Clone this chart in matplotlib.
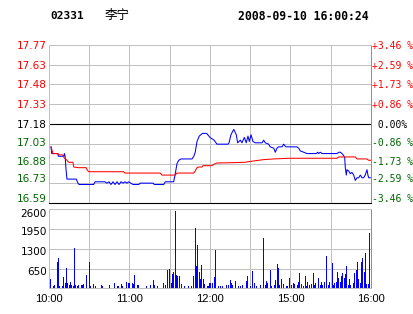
# lining_intraday.py
# Intraday quote panel for 02331 (Li Ning), 2008-09-10: price/average lines + volume bars

import matplotlib
matplotlib.use('Agg')
import matplotlib.pyplot as plt
import matplotlib.transforms as mtransforms
import numpy as np

plt.rcParams['font.family'] = ['DejaVu Sans', 'Noto Sans CJK SC']

#----------------- header text
stock_code = '02331'
stock_name = '李宁'
stamp = '2008-09-10 16:00:24'

#----------------- price panel data (minutes after 10:00, lunch break removed)
prev_close = 17.18
price_labels = ['17.77', '17.63', '17.48', '17.33', '17.18', '17.03', '16.88', '16.73', '16.59']
pct_labels = ['+3.46 %', '+2.59 %', '+1.73 %', '+0.86 %', ' 0.00%',
              '-0.86 %', '-1.73 %', '-2.59 %', '-3.46 %']

last_t = [1.5, 2, 6.5, 7, 11, 11.5, 12, 12.7, 13.4, 20.3, 21.6, 22.4, 33.3, 34.3, 41.7,
          43.2, 44.7, 46.2, 47.7, 49.2, 50.7, 52.2, 53.7, 55.2, 56.6, 58.1, 59.4, 62.6,
          66.9, 68, 77.5, 78.5, 85.5, 86.7, 92.9, 94.1, 95.4, 96.7, 98.4, 106.6, 107.9,
          109, 110.3, 112, 114.3, 117.5, 120, 123, 125.2, 133.4, 134.2, 135.6, 137.7,
          139.6, 140.6, 142.6, 143.8, 145.6, 147, 148.3, 149.3, 150.6, 152, 153.8, 158.8,
          160, 161.2, 163.7, 164.9, 167.5, 168.7, 169.9, 171.2, 173.7, 174.9, 176.6,
          178.7, 184.8, 186.1, 187.3, 192.3, 199.2, 200.3, 201, 202.2, 203.5, 214.7,
          215.9, 217.1, 218.4, 219.6, 220.4, 220.8, 221.6, 222.1, 223.4, 224.6, 225.8,
          227.1, 228.3, 229.6, 230.8, 232, 233.3, 234.5, 235.7, 237, 237.7, 238.3, 239.5]
last_px = [17.01, 16.96, 16.96, 16.94, 16.94, 16.96, 16.94, 16.84, 16.77, 16.77, 16.74,
           16.73, 16.73, 16.75, 16.75, 16.74, 16.75, 16.73, 16.75, 16.73, 16.75, 16.73,
           16.75, 16.74, 16.75, 16.74, 16.75, 16.73, 16.73, 16.74, 16.74, 16.73, 16.73,
           16.75, 16.75, 16.81, 16.885, 16.91, 16.92, 16.92, 16.94, 16.97, 17.05, 17.09,
           17.11, 17.11, 17.08, 17.06, 17.03, 17.03, 17.04, 17.10, 17.14, 17.10, 17.04,
           17.06, 17.04, 17.08, 17.04, 17.09, 17.05, 17.10, 17.05, 17.04, 17.04, 17.06,
           17.04, 17.03, 17.01, 17.00, 16.97, 17.00, 17.01, 17.01, 17.03, 17.01, 17.01,
           17.01, 17.00, 16.98, 16.96, 16.96, 16.97, 16.96, 16.97, 16.96, 16.96, 16.97,
           16.97, 16.96, 16.945, 16.93, 16.86, 16.80, 16.84, 16.83, 16.81, 16.82, 16.80,
           16.76, 16.78, 16.78, 16.80, 16.78, 16.78, 16.80, 16.84, 16.80, 16.78, 16.78]

avg_t = [1.5, 3, 6.7, 7.5, 10.4, 11.2, 13.4, 14.7, 17.9, 18.4, 22.1, 27.8, 28.3, 29.6,
         55.7, 56.4, 82.9, 84.2, 94.1, 94.9, 95.4, 107.9, 109, 110.3, 111.6, 114, 114.8,
         121.5, 122.8, 125.2, 134.9, 146, 148.8, 160, 167.5, 178.7, 214.7, 215.9, 228.3,
         229.6, 237, 238.3, 240]
avg_px = [17.01, 16.96, 16.96, 16.95, 16.95, 16.93, 16.91, 16.895, 16.895, 16.86, 16.855,
          16.855, 16.84, 16.825, 16.825, 16.815, 16.815, 16.80, 16.80, 16.81, 16.815,
          16.815, 16.83, 16.855, 16.86, 16.86, 16.87, 16.87, 16.88, 16.89, 16.892, 16.895,
          16.90, 16.915, 16.92, 16.925, 16.925, 16.935, 16.935, 16.92, 16.92, 16.91, 16.91]

#----------------- volume panel data
vol_ticks = [650, 1300, 1950, 2600]
vol_t = [1, 3, 4, 6, 7, 8, 10, 11, 12, 13, 14, 15, 16, 17, 18, 19, 20, 21, 22, 24, 25, 26,
         28, 30, 31, 33, 35, 39, 40, 45, 49, 51, 52, 54, 55, 58, 59, 60, 62, 63, 64, 66, 67,
         73, 76, 78, 79, 81, 85, 87, 88, 90, 91, 92, 93, 94, 95, 96, 97, 99, 101, 104, 106,
         108, 109, 110, 111, 112, 113, 114, 115, 116, 118, 119, 120, 122, 123, 124, 126, 128,
         129, 132, 134, 135, 136, 137, 139, 141, 143, 144, 147, 148, 150, 152, 153, 155, 158,
         160, 161, 162, 163, 165, 166, 168, 169, 170, 171, 172, 173, 175, 177, 178, 179, 181,
         182, 183, 185, 186, 187, 188, 190, 191, 192, 193, 194, 196, 197, 198, 199, 201, 202,
         203, 204, 205, 207, 208, 209, 211, 212, 213, 214, 215, 216, 217, 218, 219, 220, 221,
         222, 223, 224, 225, 227, 228, 229, 230, 231, 232, 233, 234, 235, 236, 237, 238, 239]
vol_v = [306, 75, 110, 855, 985, 75, 75, 362, 165, 658, 165, 110, 197, 110, 75, 1315, 110,
         75, 110, 110, 110, 140, 440, 855, 75, 140, 75, 110, 75, 110, 165, 75, 75, 140, 75,
         220, 185, 165, 185, 140, 440, 110, 110, 75, 110, 275, 110, 75, 185, 110, 600, 635,
         165, 470, 545, 2550, 440, 405, 390, 140, 75, 75, 75, 405, 1975, 735, 1425, 545, 295,
         765, 295, 140, 75, 75, 165, 165, 380, 1260, 75, 75, 75, 110, 110, 265, 165, 110,
         250, 75, 75, 110, 250, 405, 75, 580, 165, 75, 110, 1645, 110, 250, 185, 600, 75,
         110, 275, 800, 660, 110, 295, 140, 75, 75, 330, 110, 165, 140, 110, 220, 490, 140,
         75, 390, 75, 220, 110, 140, 490, 110, 165, 330, 110, 220, 110, 220, 1065, 110, 220,
         845, 110, 165, 220, 545, 330, 220, 390, 490, 330, 470, 735, 110, 295, 110, 185, 510,
         600, 875, 295, 165, 850, 1000, 545, 1150, 150, 150, 1810]

time_pos = [0, 60, 120, 180, 240]
time_labels = ['10:00', '11:00', '12:00', '15:00', '16:00']

#----------------- styling
RED = '#ff0000'
GREEN = '#006600'
BLUE = '#0000ff'
GRID = '#c0c0c0'

W, H = 414, 314
fig = plt.figure(figsize=(W / 100, H / 100), dpi=100)
fig.patch.set_facecolor('white')

def px_box(left, top, right, bottom):
    return [left / W, 1 - bottom / H, (right - left) / W, (bottom - top) / H]

ax = fig.add_axes(px_box(49, 44.7, 371, 203.3))
axv = fig.add_axes(px_box(49, 209.3, 371, 288.3))

lo, hi = float(price_labels[-1]), float(price_labels[0])
levels = np.linspace(hi, lo, len(price_labels))

for a in (ax, axv):
    a.set_xlim(0, 240)
    for t in range(0, 241, 30):
        a.axvline(t, color=GRID, lw=0.72, zorder=0)
    a.set_xticks([])
    a.set_yticks([])
    for s in a.spines.values():
        s.set_color(GRID)
        s.set_linewidth(0.72)
    a.spines['right'].set_color('#909090')

ax.set_ylim(lo, hi)
for lvl in levels:
    ax.axhline(lvl, color=GRID, lw=0.72, zorder=0)
ax.axhline(prev_close, color='black', lw=0.8, zorder=1)
ax.spines['bottom'].set_color('black')
ax.spines['bottom'].set_linewidth(0.8)

ax.plot(last_t, last_px, color=BLUE, lw=0.75, zorder=3)
ax.plot(avg_t, avg_px, color=RED, lw=0.75, zorder=4)

# price labels, lower ones sit slightly above their lines like the original
nudge = [0, 0, 0, 0, 0, 2, 3, 5, 5]
for lvl, lab, pct, dy in zip(levels, price_labels, pct_labels, nudge):
    if abs(lvl - prev_close) < 1e-6:
        col = 'black'
    elif lvl > prev_close:
        col = RED
    else:
        col = GREEN
    tr = mtransforms.offset_copy(ax.get_yaxis_transform(), fig=fig, x=-2, y=dy, units='dots')
    ax.text(0, lvl, lab, transform=tr, ha='right', va='center_baseline',
            color=col, fontsize=7.5, clip_on=False)
    tr2 = mtransforms.offset_copy(ax.get_yaxis_transform(), fig=fig, x=1, y=dy, units='dots')
    ax.text(1, lvl, pct, transform=tr2, ha='left', va='center_baseline',
            color=col, fontsize=7, family='DejaVu Sans Mono', clip_on=False)

# volume
axv.set_ylim(0, vol_ticks[-1])
for v in vol_ticks:
    axv.axhline(v, color=GRID, lw=0.72, zorder=0)
axv.bar(vol_t, vol_v, width=0.75, color=BLUE, linewidth=0, zorder=3)
vnudge = [-2, -2, -2, -4]
for v, dy in zip(vol_ticks, vnudge):
    tr = mtransforms.offset_copy(axv.get_yaxis_transform(), fig=fig, x=-2, y=dy, units='dots')
    axv.text(0, v, str(v), transform=tr, ha='right', va='center_baseline',
             color='black', fontsize=7.5, clip_on=False)

axv.set_xticks(time_pos)
axv.set_xticklabels(time_labels, fontsize=8, family='Liberation Sans')
axv.tick_params(axis='x', length=0, pad=4)

# header
ytop = 1 - 16 / H
fig.text(50 / W, ytop, stock_code, family='DejaVu Sans Mono', weight='bold',
         fontsize=8, va='center')
fig.text(105 / W, ytop, stock_name, family='Noto Sans CJK SC', fontsize=9, va='center')
fig.text(238 / W, ytop, stamp, family='DejaVu Sans Mono', weight='bold',
         fontsize=8.3, va='center')

plt.savefig('out.png', dpi=100)
